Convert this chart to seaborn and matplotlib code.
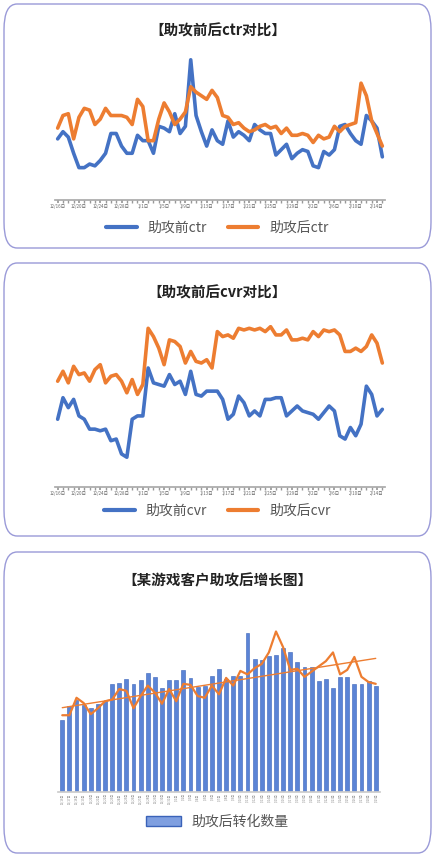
import numpy as np
import pandas as pd
import seaborn as sns
import matplotlib.pyplot as plt
from matplotlib.patches import FancyBboxPatch
from matplotlib.lines import Line2D
from matplotlib.patches import Patch

sns.set_theme(style="white")
plt.rcParams['font.family'] = ['Noto Sans CJK SC', 'DejaVu Sans']

ctr_before = [100,120,105,60,20,20,30,25,40,60,115,115,80,60,60,110,95,95,60,135,
              130,120,170,115,135,320,165,120,80,125,95,85,150,105,120,110,95,140,125,115,
              115,55,70,85,45,60,70,65,25,20,65,55,70,135,140,115,95,85,165,150,130,50]
ctr_after = [350 - y for y in [220,185,180,250,190,165,170,210,195,165,185,185,185,190,210,140,160,255,255,195,
              150,175,210,195,175,105,120,130,140,115,135,185,190,210,205,220,230,225,215,210,
              220,215,235,220,240,240,235,240,260,240,250,245,215,230,215,210,205,95,130,200,235,270]]
cvr_before = [450 - y for y in [320,255,285,260,310,320,350,350,355,350,385,380,425,435,320,310,310,165,210,215,
              220,185,215,205,245,175,245,250,235,235,235,260,320,305,250,270,310,295,310,260,
              260,255,255,310,295,280,295,300,305,320,300,280,295,370,380,345,370,335,220,245,310,290]]
cvr_after = [450 - y for y in [205,175,210,160,185,180,205,170,155,210,190,185,205,240,200,245,215,45,70,105,
              155,80,85,100,150,115,145,150,140,165,55,70,65,75,45,50,45,50,45,55,
              40,65,65,50,80,80,75,80,55,70,50,55,50,65,115,115,105,115,100,65,90,150]]
conv_bars = [515 - y for y in [310,268,250,265,275,262,255,205,203,190,205,195,173,186,216,193,195,165,187,215,
              212,183,163,190,183,183,60,135,138,125,123,103,115,143,157,157,198,192,216,186,
              186,206,206,198,212]]
conv_line = [515 - y for y in [295,295,245,260,292,275,255,250,220,225,275,240,210,230,262,220,255,205,208,240,
              245,210,235,188,210,168,178,160,148,115,55,100,165,162,185,170,155,140,115,178,
              165,128,185,200,205]]

dates = pd.date_range("2021-12-16", periods=62, freq="D")
date_labels = [f"{d.month}/{d.day}日" for d in dates]

BLUE = "#4472c4"
ORANGE = "#ed7d31"
W, H = 435, 857
fig = plt.figure(figsize=(W / 100, H / 100), dpi=100)
fig.patch.set_facecolor("white")

def card(y0, y1):
    p = FancyBboxPatch((4 / W, 1 - y1 / H), 427 / W, (y1 - y0) / H,
                       boxstyle="round,pad=0,rounding_size=0.03", transform=fig.transFigure,
                       facecolor="white", edgecolor="#9a9ad8", linewidth=1.0, zorder=-5)
    fig.patches.append(p)

def axes(x0, y0, x1, y1):
    ax = fig.add_axes([x0 / W, 1 - y1 / H, (x1 - x0) / W, (y1 - y0) / H])
    ax.set_facecolor("none")
    return ax

card(4, 248)
card(263, 536)
card(552, 853)

def line_panel(top, bot, title, ty, b, a, names, ly, step):
    ax = axes(55, top, 385, bot)
    df = pd.DataFrame({"x": range(len(b)), names[0]: b, names[1]: a})
    sns.lineplot(data=df, x="x", y=names[0], color=BLUE, lw=2.6, ax=ax)
    sns.lineplot(data=df, x="x", y=names[1], color=ORANGE, lw=2.6, ax=ax)
    ax.set_xlim(-0.5, len(b) - 0.5)
    ax.set_ylim(min(min(b), min(a)) - 90, max(max(b), max(a)) + 5)
    ax.set_xticks(range(0, len(b), step))
    ax.set_xticklabels(date_labels[:len(b):step], fontsize=3.2, color="#666")
    ax.set_xticks(range(len(b)), minor=True)
    ax.tick_params(axis="x", which="both", length=2, color="#999", pad=1, bottom=True)
    ax.set_yticks([])
    ax.set_xlabel("")
    ax.set_ylabel("")
    for s in ["top", "right", "left"]:
        ax.spines[s].set_visible(False)
    ax.spines["bottom"].set_color("#aaa")
    fig.text(0.5, 1 - ty / H, title, ha="center", va="center", fontsize=10.5, weight="bold", color="#222")
    handles = [Line2D([], [], color=BLUE, lw=3), Line2D([], [], color=ORANGE, lw=3)]
    fig.legend(handles, names, loc="center", bbox_to_anchor=(0.5, 1 - ly / H), ncol=2,
               frameon=False, fontsize=10, labelcolor="#555", handlelength=2.2, columnspacing=1.5)

line_panel(58, 200, "【助攻前后ctr对比】", 31, ctr_before, ctr_after, ["助攻前ctr", "助攻后ctr"], 228, 4)
line_panel(325, 487, "【助攻前后cvr对比】", 293, cvr_before, cvr_after, ["助攻前cvr", "助攻后cvr"], 511, 4)

# panel 3
ax = axes(58, 628, 380, 792)
n = len(conv_bars)
df3 = pd.DataFrame({"x": np.arange(n), "bar": conv_bars, "line": conv_line})
ax.bar(df3["x"], df3["bar"], width=0.55, color="#5b84d6", edgecolor="#3a62b8", linewidth=0.4)
sns.lineplot(data=df3, x="x", y="line", color=ORANGE, lw=1.6, ax=ax)
k, c = np.polyfit(df3["x"], df3["line"], 1)
ax.plot(df3["x"], k * df3["x"] + c, color=ORANGE, lw=1.0)
ax.set_xlim(-0.6, n - 0.4)
ax.set_ylim(0, max(conv_bars) + 15)
ax.set_xticks(range(n))
ax.set_xticklabels([date_labels[i] for i in range(n)], fontsize=2.0, color="#888", rotation=90)
ax.tick_params(axis="x", length=0, pad=1)
ax.set_yticks([])
ax.set_xlabel("")
ax.set_ylabel("")
for s in ["top", "right", "left"]:
    ax.spines[s].set_visible(False)
ax.spines["bottom"].set_color("#ccc")
fig.text(0.5, 1 - 580 / H, "【某游戏客户助攻后增长图】", ha="center", va="center", fontsize=10.5,
         weight="bold", color="#222")
fig.legend([Patch(facecolor="#7f9fe0", edgecolor="#3a62b8")], ["助攻后转化数量"], loc="center",
           bbox_to_anchor=(0.5, 1 - 822 / H), frameon=False, fontsize=10, labelcolor="#555",
           handlelength=2.5)

fig.savefig("out.png", dpi=100, facecolor="white")
